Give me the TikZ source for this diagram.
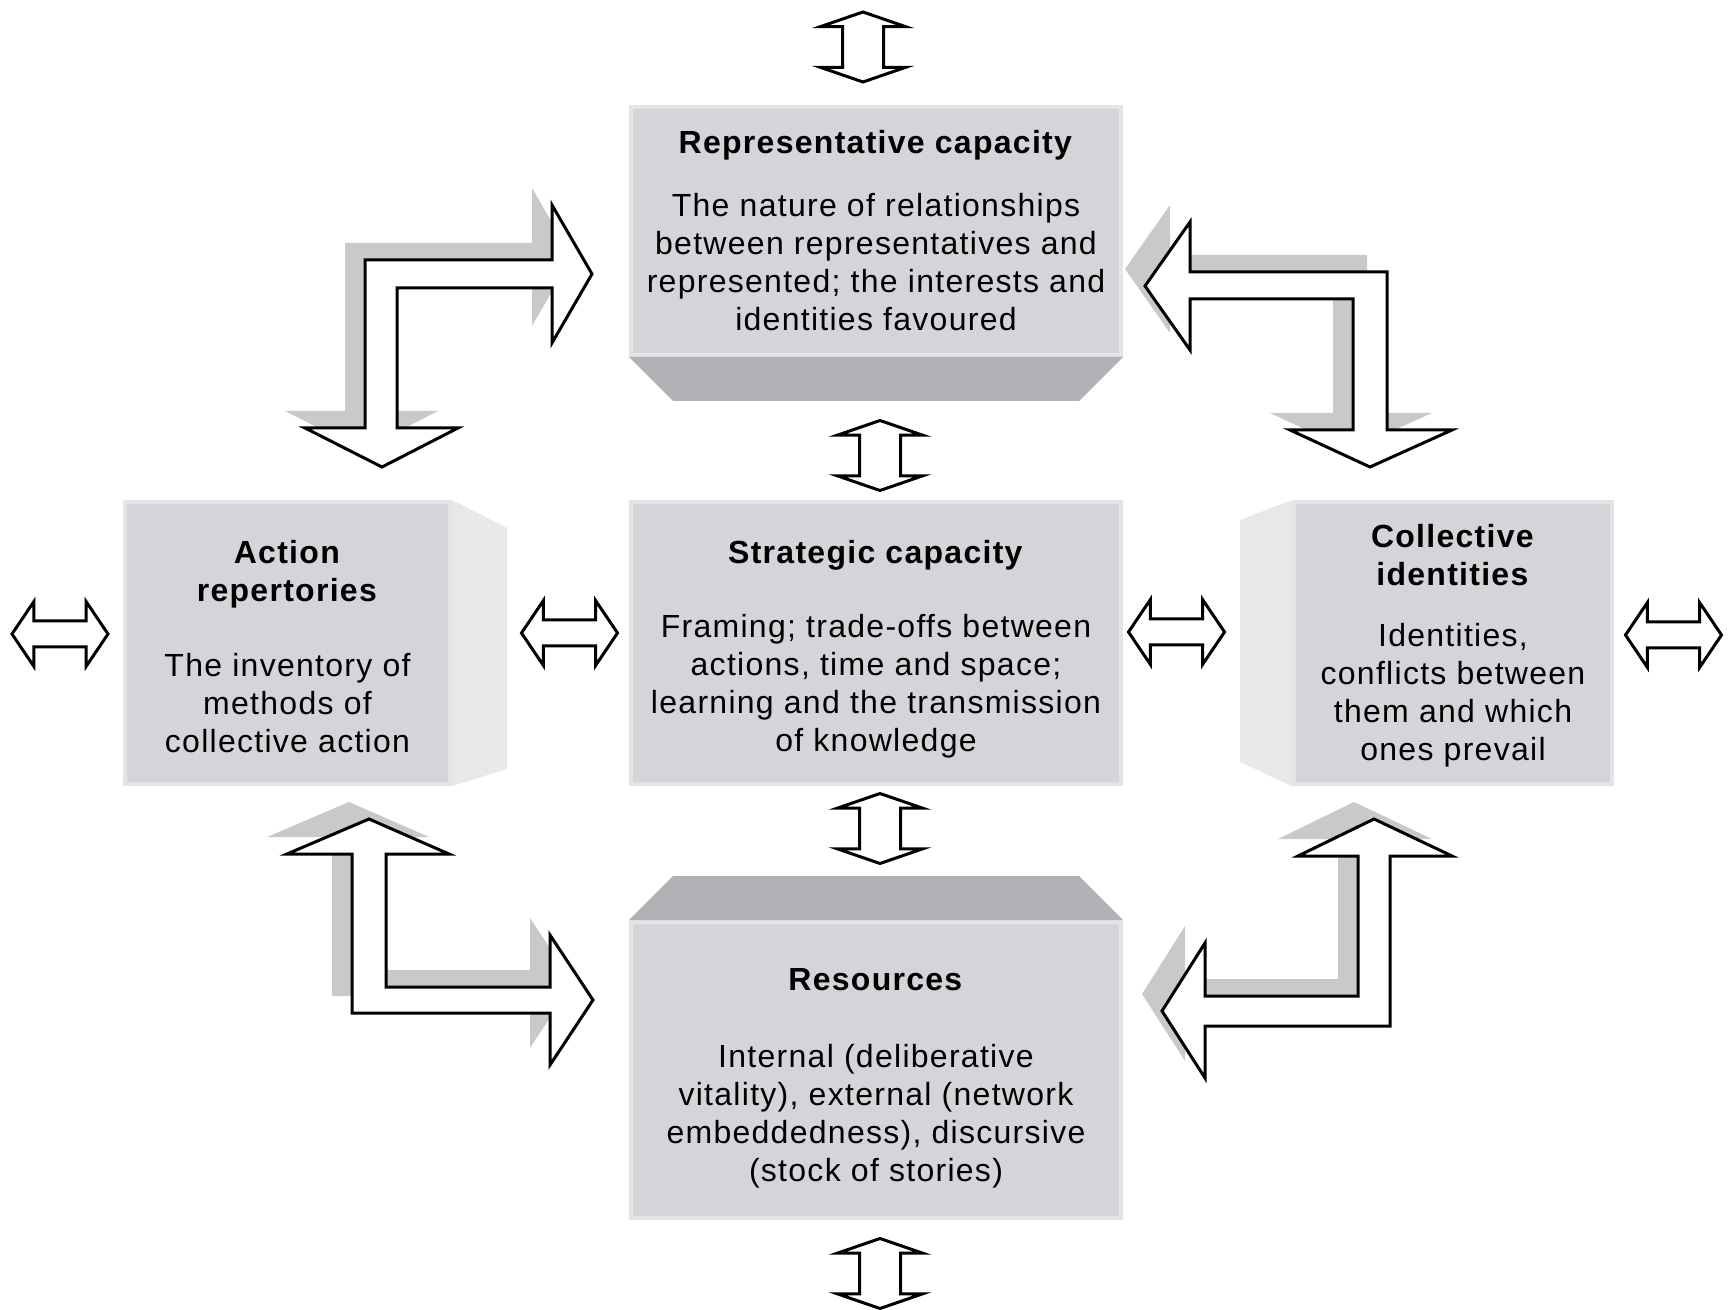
\documentclass[tikz,border=0pt]{standalone}
\usepackage{fontspec}
\setmainfont{Liberation Sans}[LetterSpace=4]
\usepackage{xcolor}
\usepackage{tikz}
\usetikzlibrary{shapes, arrows, positioning, calc}

\definecolor{facegray}{HTML}{D3D5D8}
\definecolor{rimgray}{HTML}{E2E4E6}
\definecolor{lidgray}{HTML}{B0B2B5}
\definecolor{sidegray}{HTML}{E6E8EA}
\definecolor{shadegray}{HTML}{C9C9C9}

\begin{document}
\begin{tikzpicture}[x=0.5pt, y=-0.5pt, font=\fontsize{16}{19}\selectfont]
    \tikzstyle{block}=[rectangle, fill=facegray, draw=rimgray, line width=2pt, align=center, inner sep=0pt]
    \tikzstyle{lid}=[fill=lidgray]
    \tikzstyle{side}=[fill=sidegray]
    \tikzstyle{vlink}=[double arrow, draw, fill=white, line width=1.5pt, rotate=90, minimum height=35pt, inner xsep=0pt, inner ysep=9.5pt, double arrow head extend=11pt, double arrow tip angle=142]
    \tikzstyle{hlink}=[double arrow, draw, fill=white, line width=1.5pt, minimum height=48pt, inner xsep=0pt, inner ysep=5.75pt, double arrow head extend=9.75pt, double arrow tip angle=112]
    \tikzstyle{bent}=[draw, fill=white, line width=1.5pt, preaction={fill=shadegray, transform canvas={shift={(-20,-17)}}}]

    \fill[white] (0,0) rectangle (1731,1310);
    \useasboundingbox (0,0) rectangle (1731,1310);

    \node[block, minimum width=245pt, minimum height=124pt] (rep) at (876,231) {\textbf{Representative capacity}\\[12.5pt] The nature of relationships\\between representatives and\\represented; the interests and\\identities favoured};
    \node[block, minimum width=245pt, minimum height=141pt] (strat) at (876,643) {\rule{0pt}{17.6pt}\textbf{Strategic capacity}\\[18pt] Framing; trade-offs between\\actions, time and space;\\learning and the transmission\\of knowledge};
    \node[block, minimum width=162.5pt, minimum height=141pt] (act) at (287.5,643) {\rule{0pt}{14.9pt}\textbf{Action}\\\textbf{repertories}\\[18.5pt] The inventory of\\methods of\\collective action};
    \node[block, minimum width=159pt, minimum height=141pt] (coll) at (1453,643) {\rule{0pt}{14.4pt}\textbf{Collective}\\\textbf{identities}\\[11.5pt] Identities,\\conflicts between\\them and which\\ones prevail};
    \node[block, minimum width=245pt, minimum height=148pt] (res) at (876,1070) {\rule{0pt}{19.3pt}\textbf{Resources}\\[19.5pt] Internal (deliberative\\vitality), external (network\\embeddedness), discursive\\(stock of stories)};

    \fill[lid] (rep.south west) -- (rep.south east) -- ++(-44,44) -- ($(rep.south west)+(44,44)$) -- cycle;
    \fill[lid] (res.north west) -- ++(44,-44) -- ($(res.north east)+(-44,-44)$) -- (res.north east) -- cycle;
    \fill[side] (act.north east) -- ++(55,28) -- ($(act.south east)+(55,-17)$) -- (act.south east) -- cycle;
    \fill[side] (coll.north west) -- ++(-52,20) -- ($(coll.south west)+(-52,-24)$) -- (coll.south west) -- cycle;

    \node[vlink] (top) at (863,47) {};
    \node[vlink] (repstrat) at (880,455.5) {};
    \node[vlink] (stratres) at (880,828.5) {};
    \node[vlink] (bottom) at (880,1273.5) {};

    \node[hlink] (farleft) at (60,634) {};
    \node[hlink] (actstrat) at (569.5,633) {};
    \node[hlink] (stratcoll) at (1176.5,632) {};
    \node[hlink] (farright) at (1673.5,635) {};

    \draw[bent] (397,428) -- (458,428) -- (382,467) -- (305,428) -- (365,428) -- (365,260) -- (552,260) -- (552,205) -- (592,274) -- (552,343) -- (552,288) -- (397,288) -- cycle;
    \draw[bent] (1387,272) -- (1387,430) -- (1452,430) -- (1370,467) -- (1290,430) -- (1353,430) -- (1353,299) -- (1190,299) -- (1190,350) -- (1145,286) -- (1190,222) -- (1190,272) -- cycle;
    \draw[bent] (352,1013) -- (352,854) -- (287,854) -- (369,819) -- (449,854) -- (386,854) -- (386,987) -- (550,987) -- (550,935) -- (593,1000) -- (550,1065) -- (550,1013) -- cycle;
    \draw[bent] (1390,1026) -- (1390,856) -- (1452,856) -- (1374,819) -- (1298,856) -- (1358,856) -- (1358,996) -- (1205,996) -- (1205,943) -- (1162,1011) -- (1205,1078) -- (1205,1026) -- cycle;
\end{tikzpicture}
\end{document}
